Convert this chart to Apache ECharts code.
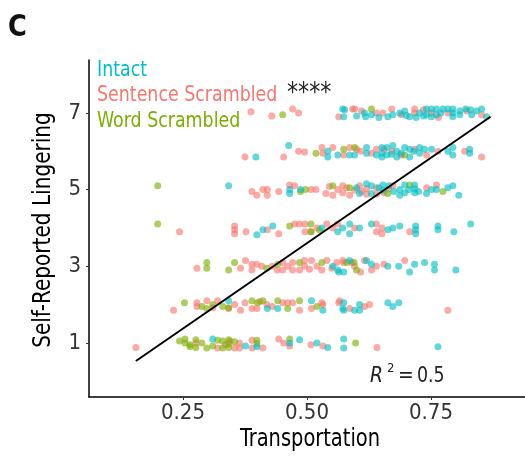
<!DOCTYPE html>
<html>
<head>
<meta charset="utf-8">
<script src="https://cdn.jsdelivr.net/npm/echarts@6/dist/echarts.min.js"></script>
<style>
  html, body { margin: 0; padding: 0; background: #fff; }
  #chart { width: 525px; height: 458px; }
</style>
</head>
<body>
<div id="chart"></div>
<script>
// [transportation, lingering] pairs
const intactPts = [
  [0.572,7.10],[0.574,6.90],[0.576,7.08],[0.600,6.92],[0.616,7.00],[0.618,6.90],[0.630,6.95],[0.645,6.88],
  [0.663,6.90],[0.673,6.95],[0.687,7.00],[0.697,7.05],[0.700,6.93],[0.707,6.90],[0.720,6.88],[0.727,7.00],
  [0.735,6.92],[0.741,7.10],[0.741,6.95],[0.751,7.10],[0.751,6.90],[0.761,7.10],[0.761,6.95],[0.770,7.00],
  [0.774,7.10],[0.784,7.10],[0.794,7.10],[0.794,7.00],[0.794,6.90],[0.808,7.05],[0.808,6.95],[0.820,7.10],
  [0.830,7.08],[0.832,6.95],[0.842,7.05],[0.852,7.10],[0.862,6.90],
  [0.397,5.85],[0.463,6.15],[0.542,6.00],[0.542,5.85],[0.562,5.90],[0.586,5.90],[0.596,5.90],[0.620,6.10],
  [0.620,5.95],[0.640,5.90],[0.651,6.10],[0.651,5.95],[0.651,5.85],[0.661,6.10],[0.661,5.90],[0.670,5.92],
  [0.673,6.15],[0.681,6.00],[0.681,5.85],[0.690,5.95],[0.697,6.10],[0.707,6.05],[0.707,5.85],[0.715,6.00],
  [0.727,6.10],[0.727,5.95],[0.737,6.05],[0.751,6.05],[0.784,6.00],[0.794,6.10],[0.794,5.90],[0.828,6.05],
  [0.828,5.95],
  [0.342,5.10],[0.465,5.00],[0.465,4.90],[0.487,5.00],[0.600,5.05],[0.606,4.90],[0.620,5.15],[0.630,5.10],
  [0.630,4.90],[0.645,5.05],[0.653,5.12],[0.653,4.98],[0.665,5.10],[0.675,4.95],[0.687,5.00],[0.687,4.85],
  [0.697,5.12],[0.697,4.92],[0.705,5.00],[0.717,5.12],[0.717,5.02],[0.717,4.92],[0.725,4.95],[0.741,4.90],
  [0.751,5.00],[0.761,5.00],[0.784,5.05],[0.794,5.10],[0.806,4.85],
  [0.399,3.82],[0.411,3.95],[0.431,4.05],[0.530,4.00],[0.562,3.90],[0.572,4.00],[0.586,4.10],[0.586,3.85],
  [0.606,4.00],[0.630,4.10],[0.663,3.95],[0.673,4.00],[0.687,4.05],[0.719,4.05],[0.719,3.95],[0.719,3.85],
  [0.764,4.05],[0.764,3.95],[0.796,3.90],[0.830,4.10],
  [0.552,3.00],[0.562,2.90],[0.564,2.85],[0.574,2.85],[0.586,3.15],[0.620,3.15],[0.630,3.05],[0.663,3.00],
  [0.685,3.00],[0.707,2.85],[0.717,3.05],[0.737,3.10],[0.757,3.05],[0.757,2.90],[0.800,2.90],
  [0.342,2.10],[0.420,1.90],[0.441,1.90],[0.509,2.10],[0.532,1.85],[0.572,1.90],[0.574,2.05],[0.574,1.85],
  [0.596,1.85],[0.606,2.00],[0.606,1.85],[0.663,2.05],[0.673,1.95],[0.685,2.05],
  [0.310,1.10],[0.376,0.92],[0.399,0.90],[0.465,1.00],[0.485,1.08],[0.520,1.00],[0.542,0.88],[0.574,1.10],
  [0.574,0.87],[0.764,0.90]
];

const sentencePts = [
  [0.387,7.03],[0.429,6.92],[0.471,7.10],[0.483,7.00],[0.564,6.90],[0.592,7.10],[0.596,7.10],[0.610,7.05],
  [0.640,7.00],[0.653,7.00],[0.671,7.10],[0.690,6.95],[0.717,7.10],[0.717,7.00],[0.735,7.08],[0.751,7.00],
  [0.765,6.88],[0.784,7.00],[0.822,7.05],[0.852,6.95],
  [0.375,5.85],[0.453,5.85],[0.483,6.00],[0.495,5.98],[0.530,6.10],[0.532,5.95],[0.552,6.10],[0.574,5.90],
  [0.586,6.10],[0.600,6.05],[0.608,6.00],[0.630,5.95],[0.640,6.05],[0.655,6.05],[0.671,6.00],[0.690,5.90],
  [0.717,6.05],[0.741,5.90],[0.764,6.00],[0.818,6.00],[0.852,5.85],
  [0.389,4.95],[0.399,4.85],[0.411,5.00],[0.420,5.00],[0.420,4.85],[0.443,4.95],[0.465,5.12],[0.475,5.10],
  [0.508,5.00],[0.518,5.00],[0.538,4.90],[0.545,5.08],[0.552,4.85],[0.562,5.00],[0.572,5.10],[0.572,4.92],
  [0.580,5.05],[0.586,4.85],[0.596,4.98],[0.606,5.10],[0.610,4.95],[0.620,5.02],[0.620,4.88],[0.640,5.05],
  [0.640,4.88],[0.655,4.92],[0.665,5.02],[0.673,5.10],[0.741,5.05],[0.761,5.12],
  [0.243,3.90],[0.354,4.05],[0.354,3.95],[0.354,3.85],[0.377,3.90],[0.420,3.95],[0.443,3.85],[0.475,4.10],
  [0.485,4.10],[0.496,4.10],[0.496,3.90],[0.508,3.90],[0.520,4.00],[0.540,4.10],[0.552,4.00],[0.562,4.10],
  [0.596,4.00],[0.640,4.10],[0.640,3.90],[0.651,4.00],[0.651,3.85],[0.707,3.90],
  [0.278,2.95],[0.366,2.95],[0.376,3.15],[0.389,3.05],[0.389,2.90],[0.399,3.05],[0.409,3.00],[0.430,3.00],
  [0.440,2.90],[0.451,3.10],[0.451,2.90],[0.461,3.00],[0.471,3.10],[0.471,2.90],[0.485,2.90],[0.495,3.15],
  [0.495,3.00],[0.505,2.92],[0.509,3.15],[0.520,3.00],[0.530,2.90],[0.540,3.15],[0.550,2.95],[0.560,3.10],
  [0.572,3.15],[0.574,3.10],[0.590,3.10],[0.596,3.00],[0.608,2.85],[0.616,3.15],[0.630,2.90],[0.640,3.00],
  [0.655,3.05],[0.697,3.15],
  [0.231,1.85],[0.278,2.05],[0.278,1.95],[0.298,2.10],[0.310,1.92],[0.320,2.10],[0.342,1.90],[0.354,2.00],
  [0.366,1.85],[0.375,2.05],[0.389,1.90],[0.399,1.90],[0.405,2.08],[0.419,2.00],[0.430,1.95],[0.451,2.05],
  [0.461,2.05],[0.471,2.05],[0.485,1.85],[0.509,1.90],[0.530,2.05],[0.532,2.00],[0.564,2.05],[0.566,2.10],
  [0.586,1.90],[0.616,1.95],[0.626,2.00],[0.784,1.85],
  [0.155,0.88],[0.276,1.00],[0.320,0.87],[0.335,0.95],[0.345,1.05],[0.354,0.87],[0.364,1.00],[0.364,0.87],
  [0.389,1.07],[0.389,0.87],[0.411,0.87],[0.443,1.10],[0.453,1.00],[0.465,0.92],[0.508,0.95],[0.532,0.92],
  [0.641,0.88]
];

const wordPts = [
  [0.451,6.95],[0.630,7.10],
  [0.518,5.95],[0.574,6.05],[0.596,6.10],[0.697,5.90],
  [0.199,5.10],[0.487,4.95],[0.497,5.00],[0.552,5.10],[0.586,5.05],[0.663,4.90],[0.707,5.12],[0.774,4.95],
  [0.199,4.10],[0.465,4.05],[0.508,4.10],[0.508,3.90],[0.525,3.95],
  [0.298,3.10],[0.298,2.95],[0.342,2.90],[0.354,3.10],[0.419,2.95],[0.441,3.05],[0.485,3.10],[0.530,3.10],
  [0.580,3.10],[0.595,3.10],[0.600,2.90],
  [0.253,2.05],[0.288,1.95],[0.298,1.90],[0.310,2.00],[0.330,1.95],[0.342,1.92],[0.389,2.10],[0.400,2.05],
  [0.411,2.10],[0.441,2.10],[0.461,1.90],[0.485,2.10],[0.520,1.95],
  [0.243,1.05],[0.254,1.10],[0.254,1.00],[0.264,0.95],[0.264,0.90],[0.276,1.08],[0.276,0.88],[0.288,1.00],
  [0.298,0.87],[0.310,0.92],[0.320,1.07],[0.330,1.05],[0.330,0.87],[0.342,1.08],[0.342,0.98],[0.342,0.88],
  [0.354,1.03],[0.399,1.07],[0.399,0.98],[0.465,1.10],[0.598,1.00]
];

// ends of the fitted line
const fitLine = [[0.155, 0.53], [0.87, 6.9]];

const xTicks = [0.25, 0.5, 0.75];
const yTicks = [1, 3, 5, 7];
const groupNames = ['Intact', 'Sentence Scrambled', 'Word Scrambled'];
const groupColors = ['#00BFC4', '#F8766D', '#7CAE00'];

// no narrow Helvetica here, so squeeze a condensed face a bit
const FONT = '"DejaVu Sans Condensed", "Liberation Sans", sans-serif';

const chart = echarts.init(document.getElementById('chart'));

const scatter = (name, data, color) => ({
  name,
  type: 'scatter',
  data,
  symbolSize: 7,
  itemStyle: { color, opacity: 0.62 },
  silent: true
});

const label = (text, x, y, size, color, style, props) => Object.assign({
  type: 'text',
  x, y,
  style: Object.assign({
    text, fill: color, font: size + 'px ' + FONT,
    textAlign: 'left', textVerticalAlign: 'middle'
  }, style || {})
}, props || {});

chart.setOption({
  animation: false,
  grid: { left: 89, right: 0, top: 60, bottom: 61 },
  xAxis: {
    type: 'value', min: 0.0605, max: 0.9395,
    axisLine: { show: true, onZero: false, lineStyle: { color: '#000', width: 1.5 } },
    axisTick: { show: true, length: 3, lineStyle: { color: '#333' }, customValues: xTicks },
    axisLabel: {
      customValues: xTicks, margin: 5, color: '#333', fontSize: 22, fontFamily: FONT,
      formatter: (v) => v.toFixed(2)
    },
    splitLine: { show: false }
  },
  yAxis: {
    type: 'value', min: -0.41, max: 8.38,
    axisLine: { show: true, onZero: false, lineStyle: { color: '#000', width: 1.5 } },
    axisTick: { show: true, length: 3, lineStyle: { color: '#333' }, customValues: yTicks },
    axisLabel: { customValues: yTicks, margin: 8, color: '#333', fontSize: 22, fontFamily: FONT },
    splitLine: { show: false }
  },
  series: [
    scatter(groupNames[1], sentencePts, groupColors[1]),
    scatter(groupNames[2], wordPts, groupColors[2]),
    scatter(groupNames[0], intactPts, groupColors[0]),
    {
      type: 'line', data: fitLine, symbol: 'none', silent: true, z: 5,
      lineStyle: { color: '#000', width: 2 }
    }
  ],
  graphic: [
    label('C', 8, 28, 30, '#111', { font: 'bold 30px ' + FONT }, { scaleX: 0.95 }),
    label(groupNames[0], 97, 70, 22, groupColors[0], null, { scaleX: 0.88 }),
    label(groupNames[1], 97, 95, 22, groupColors[1], null, { scaleX: 0.88 }),
    label(groupNames[2], 97, 121, 22, groupColors[2], null, { scaleX: 0.88 }),
    label('****', 287, 94, 26, '#222', null, { scaleX: 0.95 }),
    label('Self-Reported Lingering', 44, 230, 24, '#000', { textAlign: 'center' },
      { rotation: Math.PI / 2, scaleX: 0.93 }),
    label('Transportation', 310, 440, 24, '#000', { textAlign: 'center' }, { scaleX: 0.9 }),
    label('R', 370, 376, 22, '#222', { font: 'italic 22px ' + FONT }, { scaleX: 0.95 }),
    label('2', 387, 369, 13, '#222'),
    label('=', 398, 376, 22, '#222', null, { scaleX: 0.95 }),
    label('0.5', 417, 376, 22, '#222', null, { scaleX: 0.88 })
  ]
});
</script>
</body>
</html>
